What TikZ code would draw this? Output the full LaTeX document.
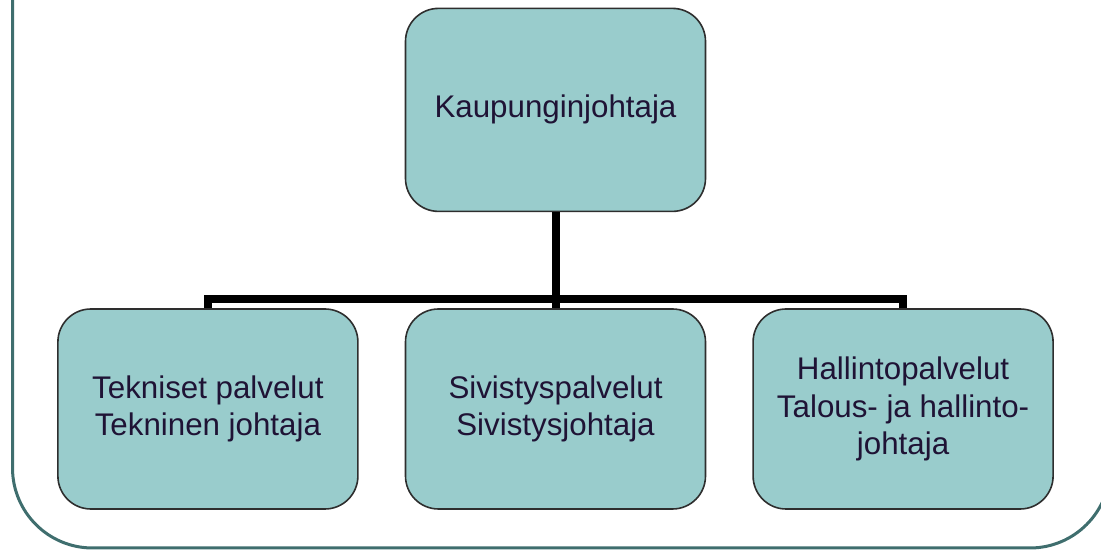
\documentclass[tikz,border=0pt]{standalone}
\usepackage{fontspec}
\setmainfont{Liberation Sans}
\usetikzlibrary{positioning}
\definecolor{boxfill}{HTML}{99CCCC}
\definecolor{boxline}{HTML}{2E2E2E}
\definecolor{framecol}{HTML}{3F6E6E}
\definecolor{txt}{HTML}{1F1335}

\begin{document}
\begin{tikzpicture}[x=1pt, y=1pt,
    main/.style = {draw=boxline, line width=1.6pt, fill=boxfill, rounded corners=33pt,
      minimum width=300pt, minimum height=200pt, inner sep=0pt, align=center,
      text=txt, font=\fontsize{31.3}{37.6}\selectfont},
    conn/.style = {line width=8pt, black}]
      \clip (0,0) rectangle (1101,551);
      \draw[framecol, line width=3pt, rounded corners=80pt] (12.5,640) -- (12.5,3) -- (1110,3) -- (1110,640);

      \node[main] (siv) at (555.5,142) {Sivistyspalvelut\\Sivistysjohtaja};
      \node[main] (tek) [left=46pt of siv] {Tekniset palvelut\\Tekninen johtaja};
      \node[main] (hal) [right=46pt of siv] {Hallintopalvelut\\Talous- ja hallinto-\\johtaja};
      \node[main, minimum height=203pt] (kj) [above=96pt of siv] {Kaupunginjohtaja};

      \coordinate (bus) at (555.5,252);
      \draw[conn] (kj) -- (siv);
      \draw[conn] (tek.north) |- (bus);
      \draw[conn] (hal.north) |- (bus);
    \end{tikzpicture}
\end{document}
